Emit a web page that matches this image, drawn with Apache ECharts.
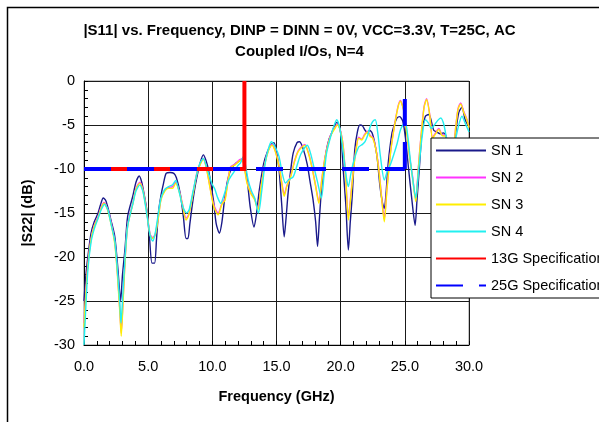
<!DOCTYPE html>
<html>
<head>
<meta charset="utf-8">
<script src="https://cdn.jsdelivr.net/npm/echarts@6/dist/echarts.min.js"></script>
<style>
html,body{margin:0;padding:0;background:#fff;}
#c{width:599px;height:422px;}
</style>
</head>
<body>
<div id="c"></div>
<script>
var titleLines = ['|S11| vs. Frequency, DINP = DINN = 0V, VCC=3.3V, T=25C, AC', 'Coupled I/Os, N=4'];
var xName = 'Frequency (GHz)';
var yName = '|S22| (dB)';
var seriesNames = ['SN 1', 'SN 2', 'SN 3', 'SN 4', '13G Specification', '25G Specification'];

var sn1 = [[0,-25],[0.15,-22],[0.3,-20],[0.55,-17.3],[0.8,-16],[1.1,-15],[1.3,-14],[1.5,-13.3],[1.7,-13.6],[1.9,-14.6],[2.1,-15.8],[2.4,-17.7],[2.65,-21.5],[2.85,-25],[3.0,-22],[3.2,-19],[3.4,-15.4],[3.8,-13.1],[4.05,-11.5],[4.3,-10.8],[4.5,-11.5],[4.7,-13],[4.9,-14.7],[5.1,-17.7],[5.3,-20.7],[5.5,-20.7],[5.65,-18],[5.8,-15],[6.0,-13],[6.2,-11.6],[6.4,-10.5],[6.7,-10.4],[7.0,-10.5],[7.2,-11],[7.5,-12.8],[7.75,-15.5],[7.95,-17.9],[8.1,-17.9],[8.25,-16.2],[8.4,-14.5],[8.6,-12.5],[8.8,-10.9],[9.05,-9.3],[9.3,-8.4],[9.5,-9],[9.7,-10.1],[9.9,-11.8],[10.1,-13.7],[10.3,-16.2],[10.55,-17.3],[10.75,-16],[10.95,-13.5],[11.2,-11.2],[11.5,-9.9],[11.8,-9.4],[12.0,-9.2],[12.3,-8.9],[12.5,-9.5],[12.7,-11],[12.95,-14.3],[13.25,-16.6],[13.45,-15],[13.65,-12.5],[14.0,-9.4],[14.3,-8],[14.6,-7.2],[14.8,-7.0],[15.0,-8],[15.2,-10.1],[15.4,-13.9],[15.6,-17.7],[15.75,-15.5],[15.9,-12.8],[16.1,-10.2],[16.3,-8.2],[16.6,-7.0],[16.8,-6.9],[17.1,-7.8],[17.4,-9.5],[17.6,-11.3],[17.85,-13.5],[18.05,-16],[18.2,-18.8],[18.35,-15.5],[18.5,-12.4],[18.7,-9.8],[18.9,-7.8],[19.1,-6.6],[19.3,-5.9],[19.55,-5],[19.7,-4.7],[19.9,-5.2],[20.05,-6.5],[20.2,-10.1],[20.4,-14],[20.6,-19.2],[20.75,-16],[20.9,-13.1],[21.1,-7.8],[21.3,-5.8],[21.5,-5],[21.7,-5.1],[21.9,-5.6],[22.1,-5.9],[22.25,-5.6],[22.45,-5.9],[22.65,-7],[22.85,-8.8],[23.05,-11.8],[23.25,-13.8],[23.4,-14.5],[23.55,-12.5],[23.7,-9.4],[24.0,-5.9],[24.2,-4.9],[24.4,-4.2],[24.6,-4.05],[24.85,-4.6],[25.05,-6.5],[25.3,-10.1],[25.55,-13.5],[25.8,-16.4],[25.95,-13.5],[26.15,-9.5],[26.35,-5.5],[26.6,-4],[26.85,-3.8],[27.0,-4.2],[27.25,-5.6],[27.5,-5.8],[27.75,-6.0],[28.0,-5.9],[28.2,-6.2],[28.45,-8.5],[28.7,-9.5],[28.95,-6],[29.2,-3.6],[29.45,-3.0],[29.7,-4.4],[30.0,-5.2]];

var sn2 = [[0,-27.5],[0.15,-23.8],[0.3,-20.8],[0.55,-17.9],[0.8,-16.4],[1.1,-15.4],[1.3,-14.5],[1.55,-13.8],[1.8,-14.4],[2.1,-16.0],[2.4,-18.3],[2.6,-21.7],[2.8,-26.2],[2.9,-28.6],[3.05,-24.7],[3.2,-20.3],[3.4,-16.4],[3.8,-13.9],[4.05,-12.2],[4.35,-11.5],[4.6,-12.4],[4.9,-14.9],[5.15,-17.4],[5.35,-17.8],[5.55,-17.4],[5.8,-15.4],[6.0,-13.4],[6.3,-12.4],[6.6,-12.1],[6.9,-12.0],[7.15,-11.5],[7.4,-12.4],[7.65,-13.8],[7.95,-15.6],[8.15,-15.2],[8.5,-12.7],[8.8,-10.4],[9.05,-9.4],[9.3,-8.8],[9.55,-9.9],[9.8,-11.9],[10.1,-14.0],[10.45,-15.0],[10.75,-13.9],[11.0,-13.3],[11.4,-9.8],[11.8,-9.4],[12.2,-8.9],[12.4,-9.1],[12.7,-11.4],[13.0,-12.7],[13.3,-13.4],[13.55,-14.5],[13.8,-11.9],[14.1,-9.3],[14.4,-7.7],[14.65,-7.2],[14.9,-7.9],[15.2,-9.6],[15.45,-11.9],[15.6,-12.9],[15.8,-11.9],[16.1,-10.8],[16.4,-9.1],[16.7,-7.9],[17.2,-7.2],[17.5,-8.2],[17.8,-10.0],[18.05,-11.9],[18.3,-13.7],[18.55,-10.9],[18.8,-8.5],[19.2,-6.2],[19.5,-5.4],[19.75,-4.9],[20.0,-5.7],[20.2,-7.4],[20.4,-11.1],[20.6,-15.5],[20.8,-12.8],[21.0,-10.0],[21.2,-7.7],[21.4,-6.4],[21.65,-6.6],[21.85,-6.1],[22.1,-5.7],[22.3,-6.2],[22.5,-6.4],[22.75,-7.7],[23.0,-10.3],[23.2,-13.3],[23.4,-15.7],[23.6,-12.3],[23.9,-7.9],[24.15,-5.4],[24.45,-3.0],[24.65,-2.2],[24.9,-3.2],[25.15,-5.9],[25.4,-8.9],[25.6,-10.8],[25.85,-13.5],[26.05,-9.9],[26.25,-6.4],[26.5,-2.9],[26.7,-2.0],[26.95,-3.9],[27.15,-6.4],[27.4,-5.9],[27.65,-5.4],[27.9,-6.1],[28.2,-6.2],[28.45,-7.9],[28.7,-8.9],[28.95,-5.4],[29.15,-3.1],[29.35,-2.5],[29.6,-3.5],[29.8,-4.2],[30.0,-5.2]];

var sn3 = [[0,-28],[0.15,-24],[0.3,-21],[0.55,-18],[0.8,-16.5],[1.1,-15.5],[1.3,-14.6],[1.55,-13.9],[1.8,-14.5],[2.1,-16.2],[2.4,-18.5],[2.6,-22],[2.8,-26.5],[2.9,-29],[3.05,-25],[3.2,-20.5],[3.4,-16.5],[3.8,-14],[4.05,-12.3],[4.35,-11.6],[4.6,-12.5],[4.9,-15],[5.15,-17.5],[5.35,-17.9],[5.55,-17.5],[5.8,-15.5],[6.0,-13.5],[6.3,-12.5],[6.6,-12.2],[6.9,-12.2],[7.15,-11.6],[7.4,-12.5],[7.65,-13.9],[7.95,-15.8],[8.15,-15.3],[8.5,-12.8],[8.8,-10.5],[9.05,-9.5],[9.3,-8.9],[9.55,-10],[9.8,-12],[10.1,-14.2],[10.45,-15.2],[10.75,-14],[11.0,-13.5],[11.4,-9.9],[11.8,-9.5],[12.2,-9.0],[12.4,-9.2],[12.7,-11.6],[13.0,-12.8],[13.3,-13.5],[13.55,-14.7],[13.8,-12],[14.1,-9.4],[14.4,-7.8],[14.65,-7.3],[14.9,-8],[15.2,-9.7],[15.45,-12],[15.6,-13.1],[15.8,-12],[16.1,-10.9],[16.4,-9.2],[16.7,-8.0],[17.2,-7.3],[17.5,-8.3],[17.8,-10.1],[18.05,-12],[18.3,-13.9],[18.55,-11],[18.8,-8.6],[19.2,-6.3],[19.5,-5.5],[19.75,-5],[20.0,-5.8],[20.2,-7.5],[20.4,-11.25],[20.6,-15.8],[20.8,-13],[21.0,-10.1],[21.2,-7.8],[21.4,-6.5],[21.65,-6.7],[21.85,-6.2],[22.1,-5.8],[22.3,-6.3],[22.5,-6.5],[22.75,-7.8],[23.0,-10.5],[23.2,-13.5],[23.4,-16],[23.6,-12.5],[23.9,-8],[24.15,-5.5],[24.45,-3.1],[24.65,-2.3],[24.9,-3.3],[25.15,-6.0],[25.4,-9],[25.6,-11],[25.85,-13.7],[26.05,-10],[26.25,-6.5],[26.5,-3],[26.7,-2.1],[26.95,-4],[27.15,-6.5],[27.4,-6],[27.65,-5.5],[27.9,-6.2],[28.2,-6.3],[28.45,-8],[28.7,-9],[28.95,-5.5],[29.15,-3.2],[29.35,-2.6],[29.6,-3.6],[29.8,-4.3],[30.0,-5.3]];

var sn4 = [[0,-30],[0.1,-27],[0.3,-21.5],[0.55,-18.3],[0.8,-16.8],[1.1,-15.6],[1.35,-14.6],[1.6,-14.0],[1.85,-14.6],[2.1,-16.2],[2.4,-18.2],[2.6,-21.5],[2.8,-25.5],[2.88,-27.5],[3.0,-25],[3.2,-20],[3.4,-16.5],[3.8,-14],[4.05,-12.5],[4.35,-11.8],[4.6,-12.6],[4.9,-15.2],[5.15,-17.5],[5.35,-18.2],[5.55,-17.3],[5.8,-15],[6.0,-13.3],[6.3,-12.3],[6.6,-12.0],[6.9,-11.8],[7.15,-11.3],[7.4,-12.5],[7.7,-14.3],[8.0,-15],[8.2,-14.6],[8.5,-12.5],[8.8,-10.5],[9.05,-9.3],[9.3,-8.8],[9.6,-10],[9.95,-11.6],[10.2,-12.3],[10.4,-13.2],[10.65,-13.9],[10.9,-13],[11.3,-11.2],[11.7,-10.3],[12.0,-9.6],[12.2,-9.3],[12.4,-8.6],[12.55,-9.3],[12.8,-11.3],[13.05,-12.5],[13.3,-13.3],[13.6,-15],[13.85,-12.5],[14.1,-9.5],[14.35,-7.8],[14.6,-6.9],[14.9,-7.5],[15.2,-8.6],[15.45,-10.5],[15.7,-11.6],[15.95,-11.2],[16.3,-10.9],[16.6,-9.6],[16.9,-8.3],[17.4,-7.3],[17.65,-8.2],[17.9,-9.7],[18.2,-11.5],[18.5,-13.3],[18.7,-10.8],[18.9,-8.2],[19.3,-5.9],[19.55,-4.8],[19.7,-4.4],[19.95,-5.5],[20.2,-8.2],[20.45,-11],[20.6,-12],[20.8,-10.5],[21.0,-9.2],[21.4,-7.5],[21.7,-7.2],[21.9,-6.9],[22.1,-6.2],[22.3,-5.2],[22.5,-4.6],[22.7,-4.4],[22.9,-6],[23.1,-8.6],[23.4,-11.25],[23.65,-10.2],[23.9,-9.4],[24.15,-8.3],[24.4,-7.1],[24.65,-5.6],[24.85,-5],[25.05,-4.8],[25.25,-6.5],[25.4,-8.6],[25.6,-11],[25.85,-13.3],[26.05,-10.5],[26.35,-6.3],[26.6,-4.4],[26.85,-4.8],[27.05,-5.4],[27.3,-5],[27.55,-4.5],[27.8,-4.2],[28.05,-5],[28.3,-7],[28.6,-9],[28.9,-7],[29.2,-5],[29.45,-4],[29.7,-4.8],[30.0,-5.8]];

var spec13G = [[0,-10],[12.5,-10],[12.5,0]];
var spec25G = [[0,-10],[25,-10],[25,-1.8]];

var xTicks = {min: 0, max: 30, interval: 5};
var yTicks = {min: -30, max: 0, interval: 5};

var FONT = 'Liberation Sans';
var chart = echarts.init(document.getElementById('c'), null, {renderer: 'canvas'});

function dataLine(name, data, color, width) {
  return {
    name: name, type: 'line', data: data, symbol: 'none', smooth: 0.25,
    lineStyle: {color: color, width: width}, itemStyle: {color: color},
    animation: false
  };
}
function specLine(name, data, color, dash, z) {
  return {
    name: name, type: 'line', data: data, symbol: 'none', z: z,
    lineStyle: {color: color, width: 4, type: dash, cap: 'butt', join: 'miter'},
    itemStyle: {color: color}, animation: false
  };
}

var option = {
  animation: false,
  backgroundColor: '#fff',
  title: {
    text: titleLines.join('\n'),
    left: 'center', top: 15,
    textStyle: {fontFamily: FONT, fontSize: 15, fontWeight: 'bold', color: '#000', lineHeight: 21}
  },
  graphic: [{
    type: 'rect', shape: {x: 7.5, y: 7.5, width: 800, height: 600},
    style: {fill: 'none', stroke: '#000', lineWidth: 1.5}, silent: true, z: -1
  }],
  grid: {left: 84, top: 81, right: 130, bottom: 77, show: true, borderColor: '#8c8c8c', borderWidth: 1, backgroundColor: 'transparent'},
  legend: {
    orient: 'vertical', left: 431, top: 138,
    itemWidth: 50, itemHeight: 14, itemGap: 12,
    padding: [5, 60, 5, 4],
    backgroundColor: '#fff', borderColor: '#000', borderWidth: 1, borderRadius: 0,
    itemStyle: {opacity: 0},
    textStyle: {fontFamily: FONT, fontSize: 14.5, color: '#000', lineHeight: 14},
    data: seriesNames
  },
  xAxis: {
    type: 'value', min: xTicks.min, max: xTicks.max, interval: xTicks.interval,
    name: xName, nameLocation: 'middle', nameGap: 44,
    nameTextStyle: {fontFamily: FONT, fontSize: 14.5, fontWeight: 'bold', color: '#000'},
    axisLine: {show: true, onZero: false, lineStyle: {color: '#000', width: 1}},
    axisTick: {show: true, inside: true, length: 4, lineStyle: {color: '#000'}},
    minorTick: {show: true, splitNumber: 5, length: 4, lineStyle: {color: '#000'}},
    splitLine: {show: true, lineStyle: {color: '#1a1a1a', width: 1}},
    axisLabel: {fontFamily: FONT, fontSize: 14.5, color: '#000', margin: 14,
      formatter: function (v) { return v.toFixed(1); }}
  },
  yAxis: {
    type: 'value', min: yTicks.min, max: yTicks.max, interval: yTicks.interval,
    name: yName, nameLocation: 'middle', nameGap: 49, nameRotate: 90,
    nameTextStyle: {fontFamily: FONT, fontSize: 14.5, fontWeight: 'bold', color: '#000'},
    axisLine: {show: true, onZero: false, lineStyle: {color: '#000', width: 1}},
    axisTick: {show: true, inside: true, length: 4, lineStyle: {color: '#000'}},
    minorTick: {show: true, splitNumber: 5, length: 4, lineStyle: {color: '#000'}},
    splitLine: {show: true, lineStyle: {color: '#1a1a1a', width: 1}},
    axisLabel: {fontFamily: FONT, fontSize: 14.5, color: '#000', margin: 9}
  },
  series: [
    dataLine(seriesNames[0], sn1, '#1a1a8a', 1.4),
    dataLine(seriesNames[1], sn2, '#ff33ff', 1.4),
    dataLine(seriesNames[2], sn3, '#ffee00', 1.4),
    dataLine(seriesNames[3], sn4, '#22f0f0', 1.4),
    specLine(seriesNames[4], spec13G, '#ff0000', 'solid', 3),
    // the dash pattern restarts at the corner, as in the reference
    specLine(seriesNames[5], spec25G.slice(0, 2), '#0000ff', [27, 16], 4),
    specLine(seriesNames[5], spec25G.slice(1), '#0000ff', [27, 16], 4)
  ]
};
chart.setOption(option);
</script>
</body>
</html>
